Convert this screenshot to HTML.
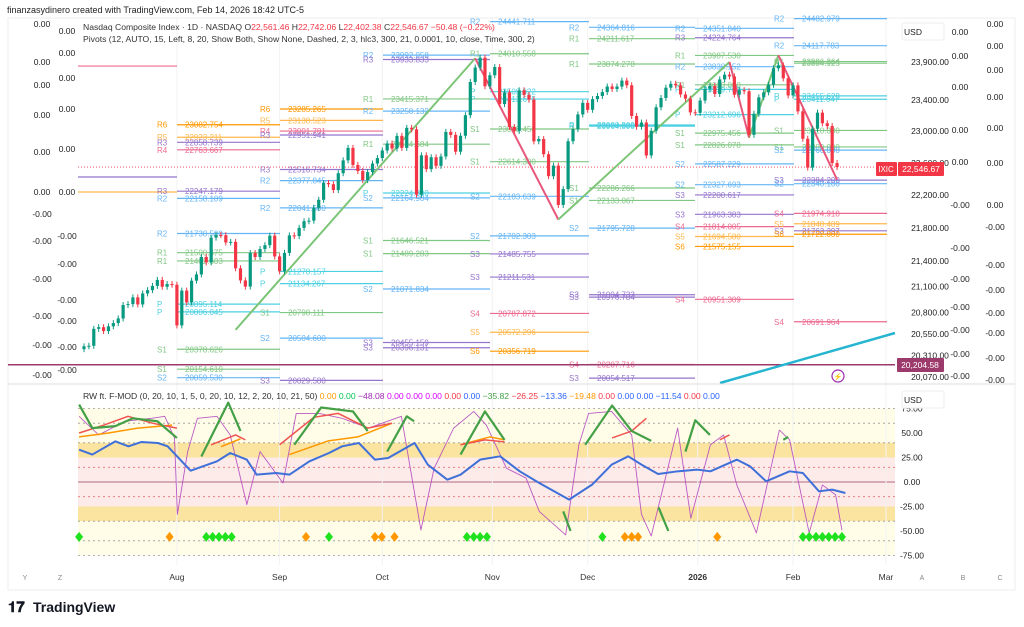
<!DOCTYPE html>
<html><head><meta charset="utf-8"><style>
body{margin:0;background:#fff;font-family:"Liberation Sans",sans-serif}
svg{display:block}
text{font-family:"Liberation Sans",sans-serif}
</style></head><body>
<svg id="c" width="1024" height="627" viewBox="0 0 1024 627" xmlns="http://www.w3.org/2000/svg">
<text x="7" y="13" font-size="9" fill="#222">finanzasydinero created with TradingView.com, Feb 14, 2026 18:42 UTC-5</text>
<rect x="8" y="18" width="1007" height="572" fill="#fff" stroke="#eee"/>
<g id="osc-bg"></g>
<g id="grid"></g>
<g id="piv"></g>
<g id="zz"></g>
<g id="cand"></g>
<g id="osc"></g>
<g id="ax"></g>
<line x1="8" y1="384" x2="1015" y2="384" stroke="#ddd"/>
<text x="83" y="30" font-size="8.6" fill="#333">Nasdaq Composite Index · 1D · NASDAQ <tspan fill="#333">O</tspan><tspan fill="#f23645">22,561.46</tspan> H<tspan fill="#f23645">22,742.06</tspan> L<tspan fill="#f23645">22,402.38</tspan> C<tspan fill="#f23645">22,546.67 −50.48 (−0.22%)</tspan></text>
<text x="83" y="42" font-size="8.6" fill="#333">Pivots (12, AUTO, 15, Left, 8, 20, Show Both, Show None, Dashed, 2, 3, hlc3, 300, 21, 0.0001, 10, close, Time, 300, 2)</text>
<text x="83" y="399" font-size="8.6" fill="#333">RW ft. F-MOD (0, 20, 10, 1, 5, 0, 20, 10, 12, 2, 20, 10, 21, 50) <tspan fill="#ff9800">0.00</tspan> <tspan fill="#00c853">0.00</tspan> <tspan fill="#9c27b0">−48.08</tspan> <tspan fill="#d500f9">0.00</tspan> <tspan fill="#d500f9">0.00</tspan> <tspan fill="#d500f9">0.00</tspan> <tspan fill="#f23645">0.00</tspan> <tspan fill="#2962ff">0.00</tspan> <tspan fill="#43a047">−35.82</tspan> <tspan fill="#f23645">−26.25</tspan> <tspan fill="#2962ff">−13.36</tspan> <tspan fill="#ff9800">−19.48</tspan> <tspan fill="#f23645">0.00</tspan> <tspan fill="#2962ff">0.00</tspan> <tspan fill="#2962ff">0.00</tspan> <tspan fill="#2962ff">−11.54</tspan> <tspan fill="#f23645">0.00</tspan> <tspan fill="#2962ff">0.00</tspan></text>
<g><text x="8" y="612" font-size="15" font-weight="bold" fill="#131722">𝟏𝟕</text><text x="33" y="612" font-size="14" font-weight="bold" fill="#131722">TradingView</text></g>
</svg>
<script>
// ---------- DATA ----------
const closes=[20412,20418,20611,20630,20585,20640,20677,20730,20885,20896,20974,20892,21020,21058,21108,21178,21098,21130,21122,20650,
21053,20916,21169,21243,21450,21385,21681,21713,21710,21623,21630,21315,21172,21100,21496,21449,21544,21590,21705,21456,
21280,21498,21708,21700,21799,21879,21886,22043,22141,22348,22333,22261,22470,22631,22788,22573,22497,22384,22484,
22591,22660,22755,22844,22780,22941,22788,23043,23024,22204,22694,22521,22670,22562,22680,22991,22953,22740,22942,23205,
23637,23827,23958,23581,23725,23834,23349,23500,23054,23004,23528,23468,23406,22871,22900,22708,22433,22565,22078,22273,
22872,23026,23215,23365,23275,23413,23454,23505,23578,23545,23577,23655,23594,23195,23057,23111,22693,23006,23307,
23428,23562,23613,23593,23474,23419,23242,23236,23395,23547,23584,23480,23671,23733,23710,23471,23530,23515,
22954,23224,23436,23501,23601,23817,23857,23685,23461,23592,23255,22904,22540,23031,23238,23102,23066,22597,22547];
const firstOpen=20380;
const monthLabels=["Aug","Sep","Oct","Nov","Dec","2026","Feb","Mar"];
const monthIdx=[19,40,61,83.5,103,125.5,145,164];
const priceTicks=[23900,23400,23000,22600,22200,21800,21400,21100,20800,20550,20310,20070];
const zzIdx=[31,80,97,132,136,142,154];
const zzPrice=[20600,23950,21900,23900,22920,23990,22390];
const pivPeriod=[0,0,0,
1,1,1,1,1,1,1,1,1,1,1,1,1,1,
2,2,2,2,2,2,2,2,2,2,2,2,
3,3,3,3,3,3,3,3,3,3,3,3,
4,4,4,4,4,4,4,4,4,4,4,4,4,
5,5,5,5,5,5,5,5,5,5,5,5,
6,6,6,6,6,6,6,6,6,6,6,6,6,6,6,6,6,
7,7,7,7,7,7,7,7,7,7,7,7,7,7,7,7];
const pivLabel=["R4","R3","R5",
"R6","R5","R3","R4","R3","R2","R2","R1","R1","P","P","S1","S1","S2",
"R6","R5","R4","R3","R3","R2","R2","P","P","S1","S2","S3",
"R2","R3","R1","R2","R1","P","S2","S1","S1","S2","S3","S3",
"R2","R1","P","P","S1","S1","S2","S2","S3","S3","S4","S5","S6",
"R2","R1","R1","P","P","S1","S1","S2","S3","S3","S4","S3",
"R2","R3","R1","R2","R1","P","P","S1","S1","S2","S2","S3","S3","S4","S5","S6","S4",
"R2","R2","R1","R1","P","P","S1","S1","S2","S3","S2","S4","S5","S3","S6","S4"];
const pivValue=[23847,22423,22237,
23082.754,22923.211,22858.739,22763.667,22247.179,22158.109,21730.5,21500.675,21402.603,20895.114,20806.045,20378.626,20154.610,20059.53,
23285.265,23138.523,23001.781,22951.941,22516.734,22377.845,22041.5,21278.157,21134.267,20798.111,20504.6,20029.580,
23992.058,23933.833,23415.371,23258.132,22834.684,22224.3,22164.984,21646.521,21489.283,21071.834,20455.159,20396.131,
24441.711,24010.558,23509.922,23413.675,23028.456,22614.3,22183.639,21702.303,21485.755,21211.531,20787.872,20572.296,20356.719,
24364.816,24211.617,23874.278,23080.3,23064.5,22286.266,22133.067,21795.728,21004.733,20976.784,20207.716,20054.517,
24351.840,24224.764,23987.530,23838.152,23600,23539.7,23212.696,22975.456,22826.078,22587.229,22327.693,22200.617,21963.383,21814.005,21694.580,21575.155,20951.309,
24482.979,24117.783,23906.364,23884.925,23455.628,23411.647,23010,22800,22760,22384.2,22340.1,21974.918,21848.489,21763.397,21722.0,20691.964];
const blueIdx=[-1,1.7,6.4,9.1,11.7,15.1,17.1,21.8,27.2,29.9,33.3,35.3,39.3,42,46.1,50.1,52.8,56.2,59.5,62.2,67.6,70.3,74.3,77,81,85.1,89.1,93.1,99.2,103.9,107.9,111.3,114,117.4,121.4,125.4,128.1,133.5,136.2,139.5,144.3,147,150.3,153,155.7];
const blueVal=[33,28,41.5,36.4,40.8,39.8,36.4,11.6,21.1,29.6,22.8,7.5,9.2,7.5,21.1,29.6,36.4,39.8,22.8,24.5,39.8,17.7,2.4,7.5,22.8,26.2,10.9,-1,-18,-2.7,17.7,26.2,17.7,8.2,10.9,12.6,10.9,22.8,16,0.7,10.9,9.2,-9.5,-7.8,-11.2];
const purIdx=[-1,3,8.4,13.8,16.5,18.5,19.1,21.2,23.2,27.2,29.9,33.3,36,40.7,43.4,48.1,52.8,58.2,64.9,68.9,71.6,75.6,79.7,82.3,86.4,90.4,93.1,98.5,101.2,103.2,107.9,112,114,116,121.4,124.1,128.1,130.8,133.5,137.5,142.2,144.3,148.3,151,153.7,155];
const purVal=[67,48,62,65,67,45,-33,31,65,67,48,-23,31,-1,70,70,65,55,67,-49,14,55,72,58,14,4,-30,-54,38,70,72,48,-33,-55,55,-37,38,48,-3,-52,53,43,-52,-3,-13,-49];
const greenSegIdx=[[-1,1.7,6.4,10,15,19],[24,29.5,32],[43,48.5,55,58],[62,66,67.5],[77,82,86],[98,99.5],[102.5,108,112,116],[117.5,119.5],[123,125,128],[143,144]];
const greenSegVal=[[79,55,57,65,62,45],[26,81,52],[38,76,72,52],[31,67,62],[28,72,43],[-30,-50],[38,78,52,42],[-26,-50],[31,63,48],[43,46]];
const redIdx=[[-1,4,9,14,19],[26,31,33],[40,47,52,58,63],[77,82,86],[108,112,115],[130,132]];
const redVal=[[50,58,67,60,55],[38,48,43],[38,66,70,55,60],[38,43,41],[45,52,65],[43,48]];
const orIdx=[[-1,5,11,18],[28,32],[42,50,56,63],[77,83,86]];
const orVal=[[46,50,55,58],[36,44],[28,42,46,60],[38,46,43]];
const diaGreen=[-1,25,26.3,27.6,28.9,30.2,50.1,78.3,79.7,81,82.4,106,147,148.3,149.7,151,152.3,153.6,155];
const diaOrange=[17.5,45.4,59.5,60.9,63.5,110.6,112,113.3,129.5];
const oscTicks=[75,50,25,0,-25,-50,-75];

// ---------- SCALES ----------
const X0=84,DX=4.89;
const xi=i=>X0+i*DX;
const py=p=>195-1802*Math.log(p/22200);
const oy=v=>482-0.98*v;
const NS="http://www.w3.org/2000/svg";
function mk(tag,attrs,parent){const e=document.createElementNS(NS,tag);for(const k in attrs)e.setAttribute(k,attrs[k]);parent.appendChild(e);return e;}
const G=id=>document.getElementById(id);

// oscillator background
const ob=G('osc-bg');
[[75,40,'#fffde7'],[40,25,'#fbe3a0'],[25,-25,'#fcebe8'],[-25,-40,'#fbe3a0'],[-40,-75,'#fffde7']].forEach(b=>{
 const r=mk('rect',{x:78,y:oy(b[0]),width:817,height:oy(b[1])-oy(b[0]),fill:b[2]},ob);
 
 
});
[[75,'#999'],[60,'#999'],[40,'#999'],[15,'#e57373'],[-15,'#e57373'],[-40,'#999'],[-60,'#999'],[-75,'#999']].forEach(l=>{
 const e=mk('line',{x1:78,x2:895,y1:oy(l[0]),y2:oy(l[0]),stroke:l[1],'stroke-dasharray':'2,3','stroke-width':0.8},ob);
 
 
});
const zl=mk('line',{x1:78,x2:895,y1:oy(0),y2:oy(0),stroke:'#b06a8a','stroke-width':1},ob);



// grid
const gr=G('grid');
monthIdx.forEach(m=>{const e=mk('line',{x1:xi(m),x2:xi(m),y1:18,y2:565,stroke:'#f2f2f2'},gr);
 
 });

// pivots
const colors={R1:'#81c784',S1:'#81c784',R2:'#64b5f6',S2:'#64b5f6',R3:'#9575cd',S3:'#9575cd',R4:'#ec6a8f',S4:'#ec6a8f',R5:'#ffb74d',S5:'#ffb74d',R6:'#ff9800',S6:'#ff9800',P:'#4dd0e1'};
const pStart=[78,177,280,383,490,589,695,794],pEnd=[177,280,383,490,589,695,794,887];
const pv=G('piv');
pivValue.forEach((v,k)=>{
 const y=py(v);if(y<18||y>383)return;
 const c=colors[pivLabel[k]],p=pivPeriod[k];
 const l=mk('line',{x1:pStart[p],x2:pEnd[p],y1:y,y2:y,stroke:c,'stroke-width':1.2},pv);
 
 
 if(p>0){
 const t=mk('text',{x:pStart[p]-20,y:y+3,'font-size':8,fill:c},pv);t.textContent=pivLabel[k];
 
 
 const t2=mk('text',{x:pStart[p]+8,y:y+3,'font-size':8,fill:c},pv);t2.textContent=v.toFixed(3);
 
 }
});
// horizontal lines
const h1=mk('line',{x1:8,x2:895,y1:py(20204.58),y2:py(20204.58),stroke:'#9c3a6b','stroke-width':1.5},pv);


const h2=mk('line',{x1:78,x2:895,y1:py(22546.67),y2:py(22546.67),stroke:'#f23645','stroke-dasharray':'1,2','stroke-width':0.8},pv);


const tl=mk('line',{x1:720,y1:383,x2:895,y2:333,stroke:'#26b5d0','stroke-width':2.5},pv);



// zigzag
const zz=G('zz');
for(let k=0;k<zzIdx.length-1;k++){
 const up=zzPrice[k+1]>zzPrice[k];
 const e=mk('line',{x1:xi(zzIdx[k]),y1:py(zzPrice[k]),x2:xi(zzIdx[k+1]),y2:py(zzPrice[k+1]),stroke:up?'#7cc576':'#e8577a','stroke-width':2},zz);
 
 
}

// candles
const cd=G('cand');
closes.forEach((c,i)=>{
 const o=i?closes[i-1]:firstOpen;
 const up=c>=o,col=up?'#089981':'#f23645';
 const x=xi(i),y1=py(Math.max(o,c)),y2=py(Math.min(o,c));
 const w=mk('line',{x1:x,x2:x,y1:y1-3,y2:y2+3,stroke:col,'stroke-width':1},cd);
 
 
 const b=mk('rect',{x:x-1.6,y:y1,width:3.2,height:Math.max(1,y2-y1),fill:col},cd);
 
 
});

// oscillator lines
const os=G('osc');
function poly(idx,val,col,w,op,name){
 const e=mk('polyline',{points:idx.map((d,k)=>xi(d)+','+oy(val[k])).join(' '),fill:'none',stroke:col,'stroke-width':w,opacity:op,'stroke-linejoin':'round'},os);
 
 
}
poly(purIdx,purVal,'#b040c0',0.9,0.85,'purple-oscillator-line');
orIdx.forEach((a,k)=>poly(a,orVal[k],'#ff9800',1.5,1,'orange-oscillator-line'));
redIdx.forEach((a,k)=>poly(a,redVal[k],'#ef5350',1.5,1,'red-oscillator-line'));
greenSegIdx.forEach((a,k)=>poly(a,greenSegVal[k],'#43a047',2.2,1,'green-oscillator-line'));
poly(blueIdx,blueVal,'#3f6fd8',2,1,'blue-oscillator-line');
function dia(arr,col,name){arr.forEach(d=>{const x=xi(d),y=oy(-56);
 const e=mk('polygon',{points:`${x},${y-5} ${x+4},${y} ${x},${y+5} ${x-4},${y}`,fill:col},os);
 
 });}
dia(diaGreen,'#1de21d','green-signal-diamond');
dia(diaOrange,'#ff9800','orange-signal-diamond');

// axes
const ax=G('ax');
function txt(x,y,s,size,col,name,anchor,weight){const t=mk('text',{x:x,y:y,'font-size':size,fill:col,'text-anchor':anchor||'middle','font-weight':weight||'normal'},ax);t.textContent=s;
 
 return t;}
priceTicks.forEach(p=>txt(930,py(p)+3,p.toLocaleString('en-US',{minimumFractionDigits:2}),8.5,'#222','price-tick-label'));
oscTicks.forEach(v=>txt(912,oy(v)+3,v.toFixed(2),8.5,'#222','oscillator-tick-label'));
monthLabels.forEach((m,k)=>txt(xi(monthIdx[k]),580,m,8.5,'#333','x-tick-label','middle',m==='2026'?'bold':'normal'));
[['Y',25],['Z',60],['A',922],['B',963],['C',1000]].forEach(a=>txt(a[1],580,a[0],7,'#888','axis-letter'));
const col1=[24,62,85,115,152,192,214,241,279,316,345,375],col2=[31,53,78,109,149,192,236,264,300,321,347,370];
col1.forEach((y,k)=>txt(42,y+3,k<6?'0.00':'-0.00',8.5,'#222','left-scale-label'));
col2.forEach((y,k)=>txt(67,y+3,k<6?'0.00':'-0.00',8.5,'#222','left-scale-label'));
const col3=[32,56,87,130,162,205,248,279,307,330,354,376],col4=[24,46,70,97,128,163,205,227,265,290,313,333,358,380];
col3.forEach((y,k)=>txt(960,y+3,k<5?'0.00':'-0.00',8.5,'#222','right-scale-label'));
col4.forEach((y,k)=>txt(995,y+3,k<7?'0.00':'-0.00',8.5,'#222','right-scale-label'));
[[23,'usd-price-box'],[391,'usd-osc-box']].forEach(b=>{const r=mk('rect',{x:902,y:b[0],width:42,height:17,fill:'#fff',stroke:'#eee',rx:2},ax);
 
 
 txt(913,b[0]+12,'USD',8.5,'#222','currency-label');});
const r1=mk('rect',{x:876,y:162,width:21,height:14,fill:'#f23645',rx:1},ax);


txt(886,172,'IXIC',8,'#fff','symbol-tag-text');
const r2=mk('rect',{x:898,y:162,width:46,height:14,fill:'#f23645',rx:1},ax);


txt(921,172,'22,546.67',8.5,'#fff','last-price-text');
const r3=mk('rect',{x:897,y:358,width:47,height:14,fill:'#9c3a6b',rx:1},ax);


txt(920,368,'20,204.58',8.5,'#fff','level-price-text');
const ic=mk('circle',{cx:838,cy:376,r:6,fill:'#fff',stroke:'#9c27b0','stroke-width':1.2},ax);


txt(838,379,'⚡',7,'#9c27b0','alert-icon-glyph');
</script>
</body></html>
